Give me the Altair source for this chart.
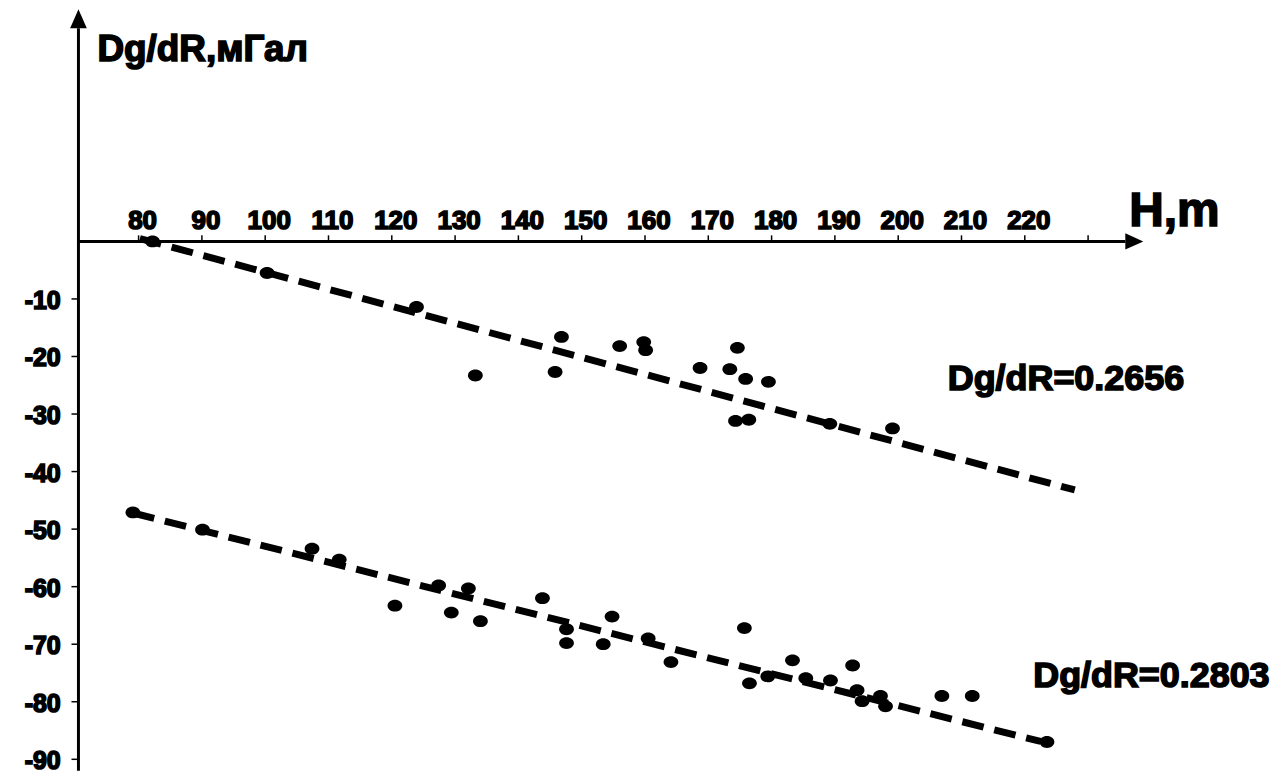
import altair as alt
import pandas as pd

# ---------------- data ----------------
upper_h = [82.2, 100.3, 123.9, 133.2, 146.8, 145.8, 156.0, 159.8, 160.1, 168.7,
           173.4, 174.6, 175.9, 179.5, 174.3, 176.4, 189.2, 199.1]
upper_v = [0.0, -5.5, -11.4, -23.3, -16.6, -22.7, -18.2, -17.5, -18.9, -22.0,
           -22.2, -18.5, -23.9, -24.4, -31.2, -31.0, -31.7, -32.5]

lower_h = [79.1, 90.1, 107.4, 111.7, 120.5, 127.4, 132.1, 129.4, 134.0, 143.8,
           147.6, 147.6, 153.4, 154.8, 160.5, 164.1, 175.7, 176.5, 179.4, 183.3,
           185.4, 189.3, 192.8, 193.5, 194.3, 197.2, 198.0, 206.9, 211.7, 223.5]
lower_v = [-47.1, -50.1, -53.4, -55.3, -63.3, -59.8, -60.3, -64.5, -66.0, -62.0,
           -67.4, -69.8, -70.0, -65.2, -69.0, -73.1, -67.2, -76.8, -75.6, -72.8,
           -75.9, -76.3, -73.7, -78.0, -79.9, -79.0, -80.8, -79.0, -79.0, -87.0]

fit_upper_h = [80.2, 227.9]
fit_upper_v = [0.5, -43.2]
fit_lower_h = [79.1, 222.5]
fit_lower_v = [-47.2, -86.9]

x_tick_values = [80, 90, 100, 110, 120, 130, 140, 150, 160, 170, 180, 190, 200, 210, 220, 230]
x_label_values = [80, 90, 100, 110, 120, 130, 140, 150, 160, 170, 180, 190, 200, 210, 220]
y_tick_values = [-10, -20, -30, -40, -50, -60, -70, -80, -90]

y_title = "Dg/dR,мГал"
x_title = "H,m"
note_texts = ["Dg/dR=0.2656", "Dg/dR=0.2803"]
note_h = [226.5, 240.0]
note_v = [-25.9, -77.5]

# ---------------- layout ----------------
X_DOMAIN = [60, 260]
Y_DOMAIN = [-92, 40]
AXIS_H = 70.5          # where the vertical axis stands
X_END = 235.9          # end of horizontal axis line (arrow base)
Y_END = 37.05          # end of vertical axis line (arrow base)
FONT = "Liberation Sans, Arial, sans-serif"

xs = alt.Scale(domain=X_DOMAIN, nice=False, zero=False)
ys = alt.Scale(domain=Y_DOMAIN, nice=False, zero=False)


def X(field="H"):
    return alt.X(f"{field}:Q", scale=xs, axis=None)


def Y(field="V"):
    return alt.Y(f"{field}:Q", scale=ys, axis=None)


pts = pd.DataFrame({"H": upper_h + lower_h, "V": upper_v + lower_v})
fits = pd.DataFrame({
    "H": fit_upper_h + fit_lower_h,
    "V": fit_upper_v + fit_lower_v,
    "g": ["u", "u", "l", "l"],
})

ELLIPSE = "M-1,0A1,0.8 0 1,0 1,0A1,0.8 0 1,0 -1,0Z"

points = alt.Chart(pts).mark_point(
    shape=ELLIPSE, filled=True, size=220, color="black", opacity=1
).encode(x=X(), y=Y())

lines = alt.Chart(fits).mark_line(
    color="black", strokeWidth=7, strokeDash=[22, 11], strokeCap="butt"
).encode(x=X(), y=Y(), detail="g:N")

# axes
yaxis = alt.Chart(pd.DataFrame({"H": [AXIS_H], "V": [Y_DOMAIN[0]], "V2": [Y_END]})).mark_rule(
    color="black", strokeWidth=3
).encode(x=X(), y=Y(), y2="V2:Q")

xaxis = alt.Chart(pd.DataFrame({"H": [AXIS_H], "H2": [X_END], "V": [0]})).mark_rule(
    color="black", strokeWidth=3
).encode(x=X(), x2="H2:Q", y=Y())

xticks = alt.Chart(pd.DataFrame({"H": x_tick_values, "V": [0] * len(x_tick_values),
                                 "V2": [1.05] * len(x_tick_values)})).mark_rule(
    color="black", strokeWidth=1.5
).encode(x=X(), y=Y(), y2="V2:Q")

yticks = alt.Chart(pd.DataFrame({"V": y_tick_values, "H": [AXIS_H] * len(y_tick_values),
                                 "H2": [AXIS_H - 1.1] * len(y_tick_values)})).mark_rule(
    color="black", strokeWidth=1.5
).encode(x=X(), x2="H2:Q", y=Y())

arrow_up = alt.Chart(pd.DataFrame({"H": [AXIS_H], "V": [38.7]})).mark_point(
    shape="M0,-1L-0.88,1L0.88,1Z", filled=True, size=361, color="black", opacity=1
).encode(x=X(), y=Y())

arrow_right = alt.Chart(pd.DataFrame({"H": [237.3], "V": [0]})).mark_point(
    shape="M1,0L-1,-0.9L-1,0.9Z", filled=True, size=324, color="black", opacity=1
).encode(x=X(), y=Y())

TXT = dict(font=FONT, fontWeight="bold", color="black", stroke="black", strokeWidth=1.6)

# labels
xlabels = alt.Chart(pd.DataFrame({"H": x_label_values, "V": [3.6] * len(x_label_values),
                                  "t": [str(v) for v in x_label_values]})).mark_text(
    fontSize=26, baseline="middle", align="center", dx=4, **TXT
).encode(x=X(), y=Y(), text="t:N")

ylabels = alt.Chart(pd.DataFrame({"V": y_tick_values, "H": [67.7] * len(y_tick_values),
                                  "t": [str(v) for v in y_tick_values]})).mark_text(
    fontSize=25, baseline="middle", align="right", dy=2, **TXT
).encode(x=X(), y=Y(), text="t:N")

ytitle = alt.Chart(pd.DataFrame({"H": [73.5], "V": [31.3], "t": [y_title]})).mark_text(
    fontSize=37, baseline="alphabetic", align="left", **TXT
).encode(x=X(), y=Y(), text="t:N")

xtitle = alt.Chart(pd.DataFrame({"H": [236.5], "V": [2.74], "t": [x_title]})).mark_text(
    fontSize=48, baseline="alphabetic", align="left", **TXT
).encode(x=X(), y=Y(), text="t:N")

notes = alt.Chart(pd.DataFrame({"H": note_h, "V": note_v, "t": note_texts})).mark_text(
    fontSize=36, baseline="alphabetic", align="center", **TXT
).encode(x=X(), y=Y(), text="t:N")

chart = alt.layer(
    yaxis, xaxis, xticks, yticks, arrow_up, arrow_right,
    lines, points, xlabels, ylabels, ytitle, xtitle, notes
).properties(
    width=1270, height=762,
    padding={"left": 4, "top": 2, "right": 0, "bottom": 6},
    autosize=alt.AutoSizeParams(type="none"),
    background="white",
).configure_view(stroke=None)

chart.save("out.html", embed_options={"renderer": "svg", "actions": False})
